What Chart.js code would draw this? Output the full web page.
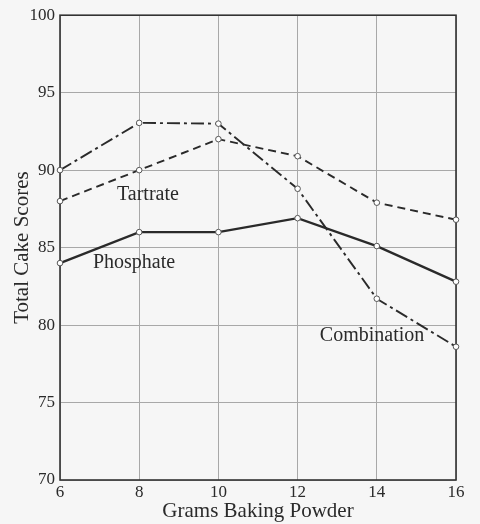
<!DOCTYPE html>
<html>
<head>
<meta charset="utf-8">
<script src="https://cdn.jsdelivr.net/npm/chart.js@4.4.0/dist/chart.umd.min.js"></script>
<style>
  html, body { margin: 0; padding: 0; background: #f6f6f6; }
  #wrap { width: 480px; height: 524px; }
</style>
</head>
<body>
<div id="wrap"><canvas id="chart1" width="480" height="524"></canvas></div>
<script>
const grams = [6, 8, 10, 12, 14, 16];
const phosphate = [84, 86, 86, 86.9, 85.1, 82.8];
const tartrate = [88, 90, 92, 90.9, 87.9, 86.8];
const combination = [90, 93.05, 93, 88.8, 81.7, 78.6];
const yTicks = [70, 75, 80, 85, 90, 95, 100];

// curve labels, placed in data coordinates
const curveLabels = [
    { text: 'Tartrate', x: 8.22, y: 88.4 },
    { text: 'Phosphate', x: 7.87, y: 84.05 },
    { text: 'Combination', x: 13.88, y: 79.3 },
];

const serif = "'Liberation Serif', 'DejaVu Serif', serif";
const ink = '#2a2a2a';

function series(label, values, dash, width) {
    return {
        label: label,
        data: grams.map((g, i) => ({ x: g, y: values[i] })),
        borderColor: ink,
        borderWidth: width,
        borderDash: dash,
        pointRadius: 2.8,
        pointBackgroundColor: '#ffffff',
        pointBorderColor: '#555',
        pointBorderWidth: 1,
        tension: 0,
        clip: false,
    };
}

const ctx = document.getElementById('chart1').getContext('2d');

new Chart(ctx, {
    type: 'line',
    data: {
        datasets: [
            series('Phosphate', phosphate, [], 2.4),
            series('Tartrate', tartrate, [8, 5], 1.9),
            series('Combination', combination, [13, 4, 3, 4], 1.9),
        ]
    },
    options: {
        responsive: false,
        animation: false,
        layout: { padding: { top: 10, right: 24, left: 0, bottom: 0 } },
        plugins: {
            legend: { display: false },
            tooltip: { enabled: false }
        },
        scales: {
            x: {
                type: 'linear',
                min: 6,
                max: 16,
                afterBuildTicks: (axis) => { axis.ticks = grams.map(v => ({ value: v })); },
                afterFit: (axis) => { axis.height = 44; },
                grid: { color: '#a8a8a8', lineWidth: 1, drawTicks: false },
                border: { display: false },
                ticks: {
                    color: ink,
                    padding: 2,
                    font: { family: serif, size: 17 },
                    maxRotation: 0,
                },
                title: {
                    display: true,
                    text: 'Grams Baking Powder',
                    color: ink,
                    padding: { top: 0, bottom: 0 },
                    font: { family: serif, size: 21 },
                }
            },
            y: {
                min: 70,
                max: 100,
                afterBuildTicks: (axis) => { axis.ticks = yTicks.map(v => ({ value: v })); },
                afterFit: (axis) => { axis.width = 60; },
                grid: { color: '#a8a8a8', lineWidth: 1, drawTicks: false },
                border: { display: false },
                ticks: {
                    color: ink,
                    padding: 5,
                    font: { family: serif, size: 17 },
                },
                title: {
                    display: true,
                    text: 'Total Cake Scores',
                    color: ink,
                    padding: { top: 10, bottom: 0 },
                    font: { family: serif, size: 21 },
                }
            }
        }
    },
    plugins: [{
        id: 'frameAndLabels',
        beforeDatasetsDraw(chart) {
            const { ctx, chartArea } = chart;
            ctx.save();
            ctx.strokeStyle = '#333';
            ctx.lineWidth = 1.6;
            ctx.strokeRect(chartArea.left, chartArea.top,
                chartArea.right - chartArea.left, chartArea.bottom - chartArea.top);
            ctx.restore();
        },
        afterDatasetsDraw(chart) {
            const { ctx, scales } = chart;
            ctx.save();
            ctx.font = '20px ' + serif;
            ctx.fillStyle = ink;
            ctx.textAlign = 'center';
            ctx.textBaseline = 'middle';
            curveLabels.forEach(l => {
                ctx.fillText(l.text, scales.x.getPixelForValue(l.x), scales.y.getPixelForValue(l.y));
            });
            ctx.restore();
        }
    }]
});
</script>
</body>
</html>
